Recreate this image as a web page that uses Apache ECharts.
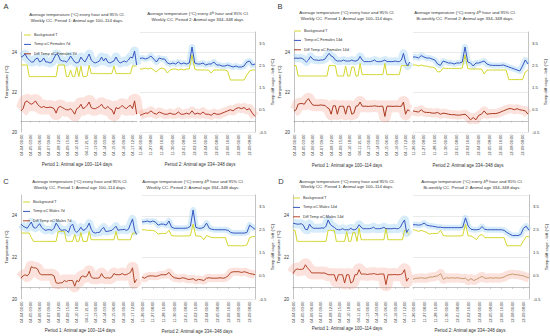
<!DOCTYPE html>
<html><head><meta charset="utf-8">
<script src="https://cdn.jsdelivr.net/npm/echarts@6/dist/echarts.min.js"></script>
<style>html,body{margin:0;padding:0;background:#fff}#c{width:550px;height:336px}</style>
</head><body><div id="c"></div>
<script>
// ---------- tick labels ----------
const ticks1 = ['04-04 00:00','04-05 03:00','04-06 06:00','04-07 09:00','04-08 12:00','04-09 15:00','04-10 18:00','04-11 21:00','04-13 00:00','04-14 03:00','04-15 06:00','04-16 09:00','04-17 12:00'];
const ticks2 = ['11-26 00:00','11-27 08:00','11-28 16:00','11-30 00:00','12-01 08:00','12-02 16:00','12-04 00:00','12-05 08:00','12-06 16:00','12-08 00:00','12-09 08:00'];
const STEP1 = 6, STEP2 = 8;     // hours between stored points
const TICK1 = 27, TICK2 = 32;   // hours between tick labels

// ---------- Panel A (Females 7d) ----------
const bgA1 = [23.35,23.35,23.35,23.35,22.77,22.77,22.77,22.77,22.77,22.77,22.77,22.77,22.77,22.77,22.77,22.77,22.77,22.77,23.35,23.35,23.35,23.35,22.77,22.77,23.1,22.77,22.77,23.25,22.77,23.3,22.77,22.77,22.8,23.35,22.92,22.92,22.92,22.92,22.92,22.92,22.92,22.92,22.92,22.92,22.92,23.3,22.92,22.92,22.92,22.92,22.92,22.92,22.92,22.92,23.3,23.3,23.3];
const tA1 = [23.75,23.8,23.9,23.7,23.6,23.5,23.5,23.65,23.7,23.5,23.55,23.7,23.5,23.5,23.45,23.5,23.7,23.9,23.85,23.6,23.55,23.55,23.5,23.6,23.8,23.65,23.5,23.45,23.5,23.75,23.6,23.5,23.7,23.9,23.6,23.5,23.45,23.5,23.55,23.75,23.55,23.7,23.5,23.45,23.5,23.55,23.75,23.55,23.45,23.5,23.55,23.5,23.6,23.75,23.7,24.05,23.35];
const dA1 = [0.45,0.55,0.85,0.9,0.8,0.75,0.8,0.9,0.75,0.65,0.6,0.65,0.6,0.6,0.62,0.6,0.55,0.35,0.6,0.65,0.6,0.55,0.5,0.5,0.55,0.45,0.3,0.55,0.6,0.75,0.55,0.6,0.7,0.85,0.6,0.55,0.55,0.6,0.65,0.75,0.6,0.55,0.65,0.55,0.5,0.3,0.6,0.55,0.6,0.7,0.6,0.55,0.65,0.7,0.55,0.9,0.3];
const bgA2 = [23.15,23.15,23.2,23.15,23.2,23.1,23.0,23.15,23.2,23.15,22.95,23.1,23.15,23.15,23.1,23.15,23.1,23.15,23.15,23.85,23.15,23.1,23.1,23.1,23.1,23.1,22.95,23.1,23.1,23.1,23.1,23.1,23.05,22.6,22.6,22.6,22.6,22.6,22.6,22.85,23.05,23.1,23.1];
const tA2 = [23.68,23.7,23.65,23.7,23.8,23.65,23.5,23.7,23.65,23.65,23.45,23.4,23.45,23.4,23.5,23.4,23.45,23.4,23.45,24.25,23.45,23.4,23.4,23.45,23.35,23.4,23.4,23.5,23.35,23.35,23.3,23.3,23.35,23.3,23.25,23.3,23.25,23.25,23.3,23.5,23.55,23.35,23.4];
const dA2 = [0.25,0.3,0.35,0.35,0.45,0.35,0.3,0.4,0.35,0.3,0.3,0.35,0.3,0.3,0.4,0.3,0.3,0.35,0.3,0.45,0.3,0.35,0.3,0.4,0.3,0.3,0.25,0.35,0.3,0.3,0.35,0.4,0.45,0.5,0.45,0.55,0.6,0.55,0.6,0.5,0.55,0.35,0.2];

// ---------- Panel B (Females 14d) ----------
const bgB1 = [23.32,23.32,22.8,22.8,22.8,22.8,22.8,22.8,22.8,22.8,22.8,22.8,22.8,22.8,22.8,22.8,22.8,23.32,23.32,23.32,23.32,22.8,22.8,22.8,22.8,23.3,22.8,22.8,23.25,23.25,22.8,22.8,23.43,22.87,22.87,22.87,22.87,22.87,22.87,22.87,22.87,22.87,22.87,22.87,23.43,22.87,22.87,22.87,22.87,22.87,22.87,22.87,23.32,23.32,23.32,23.32,23.32];
const tB1 = [23.68,23.7,23.68,23.7,23.68,23.6,23.5,23.6,23.78,23.65,23.6,23.6,23.58,23.6,23.6,23.65,23.8,23.93,23.8,23.75,23.6,23.55,23.55,23.55,23.6,23.55,23.55,23.55,23.6,23.55,23.55,23.6,23.78,23.6,23.52,23.52,23.52,23.52,23.55,23.6,23.52,23.52,23.52,23.55,23.6,23.52,23.52,23.52,23.52,23.55,23.52,23.52,23.6,23.93,23.5,23.3,23.5];
const dB1 = [0.45,0.5,0.75,0.78,0.78,0.75,0.9,1.0,0.85,0.72,0.7,0.7,0.7,0.72,0.7,0.7,0.6,0.55,0.3,0.68,0.68,0.3,0.65,0.66,0.66,0.3,0.66,0.66,0.3,0.35,0.66,0.68,0.85,0.66,0.66,0.66,0.65,0.66,0.66,0.68,0.66,0.65,0.66,0.66,0.2,0.66,0.66,0.66,0.65,0.66,0.66,0.65,0.66,0.85,0.3,0.5,0.45];
const bgB2 = [23.35,23.35,23.3,23.35,23.3,23.3,23.25,23.25,23.2,23.0,23.02,23.2,23.18,23.18,23.18,23.18,23.18,23.18,23.2,23.85,23.18,23.15,23.15,23.15,23.15,23.15,22.9,23.1,23.1,23.1,23.1,23.1,23.1,23.1,23.1,22.62,22.62,22.62,22.62,22.62,22.62,23.0,23.1];
const tB2 = [23.75,23.75,23.7,23.82,23.75,23.7,23.7,23.65,23.6,23.4,23.33,23.55,23.5,23.45,23.45,23.4,23.45,23.45,23.5,24.25,23.5,23.45,23.3,23.45,23.45,23.5,23.55,23.4,23.35,23.33,23.33,23.33,23.33,23.35,23.3,23.25,23.2,23.15,23.1,23.05,23.3,23.6,23.4];
const dB2 = [0.45,0.42,0.4,0.5,0.4,0.38,0.38,0.35,0.35,0.38,0.3,0.35,0.33,0.3,0.28,0.28,0.26,0.26,0.28,0.3,0.2,0.05,0.15,0.05,0.25,0.3,0.45,0.3,0.32,0.33,0.33,0.35,0.4,0.45,0.5,0.55,0.55,0.5,0.55,0.5,0.48,0.45,0.3];

// ---------- Panel C (Males 7d) ----------
const bgC1 = [23.17,23.17,23.17,23.17,23.17,22.95,22.77,22.77,22.77,22.77,22.77,22.77,22.77,22.77,22.77,22.77,22.77,22.77,23.25,23.25,23.25,23.25,22.77,22.77,22.77,22.77,23.1,22.77,22.77,23.2,22.77,22.77,22.77,23.25,22.85,22.85,22.85,22.85,22.85,22.85,22.85,22.85,22.85,22.85,22.85,22.85,23.25,22.85,22.85,22.85,22.85,22.85,22.85,22.85,23.17,23.17,23.17];
const tC1 = [23.6,23.5,23.45,23.4,23.55,23.7,23.45,23.4,23.5,23.62,23.45,23.35,23.3,23.33,23.33,23.3,23.4,23.65,23.5,23.33,23.3,23.33,23.3,23.2,23.5,23.6,23.3,23.2,23.3,23.45,23.3,23.33,23.45,23.65,23.35,23.2,23.17,23.2,23.2,23.35,23.45,23.25,23.25,23.28,23.3,23.4,23.5,23.3,23.33,23.33,23.35,23.3,23.35,23.6,23.85,23.3,23.1];
const dC1 = [0.4,0.5,0.55,0.5,0.6,0.9,0.85,0.85,0.8,0.6,0.55,0.55,0.55,0.55,0.55,0.55,0.5,0.2,0.18,0.2,0.2,0.3,0.25,0.3,0.3,0.3,0.05,0.3,0.25,0.45,0.5,0.45,0.5,0.7,0.45,0.4,0.4,0.4,0.42,0.6,0.45,0.4,0.42,0.4,0.45,0.6,0.55,0.55,0.55,0.6,0.55,0.55,0.6,0.65,0.85,0.2,0.35];
const bgC2 = [23.33,23.33,23.3,23.3,23.3,23.25,23.12,23.15,23.15,23.15,23.3,23.05,23.03,23.03,23.03,23.03,23.03,23.03,23.05,23.6,23.03,23.03,23.0,22.85,23.05,23.0,22.95,22.95,22.95,22.95,22.95,22.95,22.56,22.56,22.56,22.56,22.56,22.56,22.56,22.6,22.95,23.0,23.0];
const tC2 = [23.7,23.72,23.75,23.7,23.75,23.7,23.55,23.6,23.6,23.55,23.75,23.45,23.4,23.4,23.4,23.4,23.4,23.42,23.5,24.28,23.45,23.4,23.4,23.45,23.65,23.4,23.35,23.33,23.33,23.33,23.33,23.33,23.3,23.2,23.17,23.17,23.17,23.17,23.17,23.2,23.55,23.45,23.35];
const dC2 = [0.45,0.4,0.48,0.5,0.5,0.48,0.5,0.55,0.55,0.55,0.65,0.5,0.42,0.4,0.38,0.42,0.4,0.35,0.35,0.38,0.3,0.35,0.33,0.3,0.4,0.42,0.4,0.4,0.4,0.42,0.4,0.42,0.5,0.65,0.68,0.68,0.68,0.65,0.68,0.65,0.6,0.58,0.55];

// ---------- Panel D (Males 14d) ----------
const bgD1 = [23.3,23.3,22.77,22.77,22.77,22.77,22.77,22.77,22.77,22.77,22.77,22.77,22.77,22.77,22.77,22.77,22.77,23.3,23.3,23.3,23.3,22.77,22.77,22.77,22.77,22.77,23.25,22.77,22.77,23.2,23.2,22.77,23.4,22.85,22.85,22.85,22.85,22.85,22.85,22.85,22.85,22.85,22.85,22.85,22.85,23.4,22.85,22.85,22.85,22.85,22.85,22.85,22.85,22.85,23.3,23.3,23.1];
const tD1 = [23.65,23.62,23.6,23.6,23.62,23.55,23.35,23.33,23.6,23.45,23.4,23.4,23.4,23.4,23.42,23.4,23.5,23.8,23.6,23.5,23.45,23.35,23.33,23.33,23.38,23.33,23.33,23.33,23.4,23.33,23.33,23.4,23.57,23.45,23.38,23.38,23.38,23.38,23.4,23.45,23.38,23.38,23.38,23.4,23.45,23.38,23.38,23.38,23.38,23.4,23.38,23.38,23.45,23.65,23.8,23.2,23.35];
const dD1 = [0.6,0.75,0.8,0.78,0.78,0.8,0.98,0.85,0.75,0.63,0.63,0.63,0.63,0.63,0.62,0.63,0.6,0.55,0.55,0.55,0.55,0.27,0.55,0.55,0.55,0.19,0.55,0.55,0.19,0.25,0.55,0.55,0.77,0.58,0.58,0.58,0.56,0.58,0.58,0.6,0.58,0.56,0.58,0.58,0.58,0.12,0.55,0.55,0.55,0.56,0.55,0.55,0.56,0.6,0.77,0.27,0.41];
const bgD2 = [23.33,23.3,23.25,23.3,23.25,23.2,23.12,23.15,23.15,23.15,23.3,23.05,23.03,23.03,23.03,23.03,23.03,23.03,23.05,23.6,23.03,23.03,22.95,22.85,23.05,23.1,22.95,22.95,22.95,22.95,22.95,22.95,22.95,22.95,22.56,22.56,22.56,22.56,22.56,22.56,22.8,23.0,23.0];
const tD2 = [23.57,23.57,23.55,23.57,23.65,23.55,23.52,23.5,23.48,23.45,23.45,23.43,23.43,23.43,23.43,23.43,23.43,23.43,23.45,23.9,23.5,23.35,23.33,23.33,23.35,23.48,23.35,23.33,23.33,23.33,23.33,23.33,23.33,23.3,23.2,23.12,23.05,23.05,23.05,23.1,23.4,23.5,23.3];
const dD2 = [0.35,0.4,0.4,0.42,0.4,0.4,0.45,0.45,0.48,0.5,0.6,0.35,0.42,0.4,0.42,0.4,0.42,0.4,0.38,0.4,0.3,0.38,0.3,0.35,0.42,0.48,0.4,0.4,0.42,0.4,0.42,0.4,0.42,0.45,0.52,0.55,0.58,0.55,0.55,0.52,0.5,0.45,0.42];

// ---------- names / texts ----------
const namesA = ['Background T','Temp oC Females 7d','Diff Temp oC Females 7d'];
const namesB = ['Background T','Temp oC Females 14d','Diff Temp oC Females 14d'];
const namesC = ['Background T','Temp oC Males 7d','Diff Temp oC Males 7d'];
const namesD = ['Background T','Temp oC Males 14d','Diff Temp oC Males 14d'];
const title1a = 'Average temperature (°C) every hour and 95% CI.';
const title1b = 'Weekly CC. Period 1: Animal age 100–114 days.';
const title2a = 'Average temperature (°C) every 4{s|th} hour and 95% CI.';
const title2bW = 'Weekly CC. Period 2: Animal age 334–348 days.';
const title2bB = 'Bi-weekly CC. Period 2: Animal age 334–348 days.';
const cap1 = 'Period 1: Animal age 100–114 days';
const cap2 = 'Period 2: Animal age 334–348 days';
const yName1 = 'Temperature (°C)';
const yName2 = 'Temp diff cage - left (°C)';

// ---------- layout (positions / styles) ----------
const panels = [
 {L:'A', names:namesA, d:[[bgA1,tA1,dA1],[bgA2,tA2,dA2]], t2b:title2bW, letter:[6,6], top:32, h:100, g:[[21,116],[140,115]], t1:[77,14,20], t2:[198,13,19], c:[[77,164],[200,164]], leg:[24,33], ci:[[9,14],[6,9]], dc:['#b23a26','#b23a26']},
 {L:'B', names:namesB, d:[[bgB1,tB1,dB1],[bgB2,tB2,dB2]], t2b:title2bB, letter:[280,6], top:32, h:100, g:[[294,116],[413,115]], t1:[347,12,18], t2:[465,12,18], c:[[347,165],[468,165]], leg:[294,29], ci:[[8,12],[6,9]], dc:['#a8391f','#a8391f']},
 {L:'C', names:namesC, d:[[bgC1,tC1,dC1],[bgC2,tC2,dC2]], t2b:title2bW, letter:[6,181], top:195, h:104, g:[[21,116],[142,113]], t1:[80,181,187], t2:[193,181,187], c:[[80,330],[197,331]], leg:[23,200], ci:[[8,12],[6,8]], dc:['#b04628','#b04628']},
 {L:'D', names:namesD, d:[[bgD1,tD1,dD1],[bgD2,tD2,dD2]], t2b:title2bB, letter:[281,181], top:195, h:104, g:[[293,116],[413,116]], t1:[347,181,186], t2:[472,181,187], c:[[347,328],[470,330]], leg:[293,196], ci:[[9,13],[6,9]], dc:['#b8452a','#c99a6e']}
];

const FONT = 'Liberation Sans, Arial, sans-serif';
const TXT = '#333';
const AX = '#9a9a9a';
const grid=[], xAxis=[], yAxis=[], series=[], legend=[], graphic=[];

function txt(x,y,text,size,extra){
  return {type:'text', x:x, y:y, silent:true, style:Object.assign({text:text, fontSize:size, fontFamily:FONT, fill:TXT, align:'center', verticalAlign:'middle', textAlign:'center', textVerticalAlign:'middle'}, extra||{})};
}

panels.forEach(function(p, pi){
  for (let k=0;k<2;k++){
    const gi = pi*2+k;
    const step = k ? STEP2 : STEP1;
    const tick = k ? TICK2 : TICK1;
    const labels = k ? ticks2 : ticks1;
    grid.push({left:p.g[k][0], top:p.top, width:p.g[k][1], height:p.h, containLabel:false});
    xAxis.push({type:'value', gridIndex:gi, min:0, max:k?336:337, interval:tick,
      axisLine:{show:true, lineStyle:{color:AX, width:0.6}},
      axisTick:{show:true, length:1.5, lineStyle:{color:AX, width:0.5}},
      splitLine:{show:false},
      axisLabel:{rotate:90, fontSize:4, margin:2.5, color:TXT, fontFamily:FONT, showMaxLabel:false,
        formatter:function(v){ return (v % tick === 0 && labels[v/tick]) ? labels[v/tick] : ''; }}});
    yAxis.push({type:'value', gridIndex:gi, min:20, max:25, interval:2, position:'left',
      axisLine:{show:k===0, lineStyle:{color:AX, width:0.6}}, axisTick:{show:false},
      axisLabel:{show:k===0, fontSize:4.5, margin:4, color:TXT, fontFamily:FONT, showMaxLabel:false},
      splitLine:{show:k===1, lineStyle:{color:'#dcdcdc', width:0.6}},
      name:k===0?yName1:'', nameLocation:'middle', nameGap:12, nameTextStyle:{fontSize:4.3, color:TXT, fontFamily:FONT}});
    yAxis.push({type:'value', gridIndex:gi, min:-0.5, max:4, interval:1, position:'right',
      axisLine:{show:k===1, lineStyle:{color:AX, width:0.6}}, axisTick:{show:false},
      axisLabel:{show:k===1, fontSize:4.3, margin:4, color:TXT, fontFamily:FONT, showMaxLabel:false},
      splitLine:{show:false},
      name:k===1?yName2:'', nameLocation:'middle', nameGap:13, nameTextStyle:{fontSize:4.3, color:TXT, fontFamily:FONT}});
    const bg = p.d[k][0], tt = p.d[k][1], df = p.d[k][2];
    const toXY = function(arr){ return arr.map(function(v,i){ return [i*step, v]; }); };
    const base = {type:'line', xAxisIndex:gi, symbol:'none', showSymbol:false, animation:false, clip:true};
    series.push(Object.assign({}, base, {name:'ci-t', yAxisIndex:2*gi, data:toXY(tt), silent:true, z:1,
      lineStyle:{width:p.ci[k][0], color:'rgba(160,210,242,0.42)', cap:'butt', join:'round'}}));
    series.push(Object.assign({}, base, {name:'ci-d', yAxisIndex:2*gi+1, data:toXY(df), silent:true, z:1,
      lineStyle:{width:p.ci[k][1], color:'rgba(245,160,140,0.3)', cap:'butt', join:'round'}}));
    series.push(Object.assign({}, base, {name:p.names[0], yAxisIndex:2*gi, data:toXY(bg), z:3,
      lineStyle:{width:1, color:'#d3d62e'}, itemStyle:{color:'#d3d62e'}}));
    series.push(Object.assign({}, base, {name:p.names[1], yAxisIndex:2*gi, data:toXY(tt), z:4,
      lineStyle:{width:1, color:'#3556c2'}, itemStyle:{color:'#3556c2'}}));
    series.push(Object.assign({}, base, {name:p.names[2], yAxisIndex:2*gi+1, data:toXY(df), z:5,
      lineStyle:{width:1, color:p.dc[k]}, itemStyle:{color:p.dc[0]}}));
  }
  legend.push({data:p.names, left:p.leg[0], top:p.leg[1], orient:'vertical', icon:'rect', itemWidth:7, itemHeight:1, itemGap:5.4, padding:0,
    selectedMode:false, textStyle:{fontSize:3.8, color:TXT, fontFamily:FONT, padding:[0,0,0,-2]}});
  graphic.push(txt(p.letter[0], p.letter[1], p.L, 7.5));
  graphic.push(txt(p.t1[0], p.t1[1], title1a, 4.3));
  graphic.push(txt(p.t1[0], p.t1[2], title1b, 4.3));
  graphic.push(txt(p.t2[0], p.t2[1], title2a, 4.3, {rich:{s:{fontSize:3, verticalAlign:'top', fill:TXT, fontFamily:FONT}}}));
  graphic.push(txt(p.t2[0], p.t2[2], p.t2b, 4.3));
  graphic.push(txt(p.c[0][0], p.c[0][1], cap1, 4.5));
  graphic.push(txt(p.c[1][0], p.c[1][1], cap2, 4.5));
});

const chart = echarts.init(document.getElementById('c'), null, {renderer:'svg', width:550, height:336});
chart.setOption({animation:false, backgroundColor:'#fff', grid:grid, xAxis:xAxis, yAxis:yAxis, series:series, legend:legend, graphic:graphic});
</script>
</body></html>
